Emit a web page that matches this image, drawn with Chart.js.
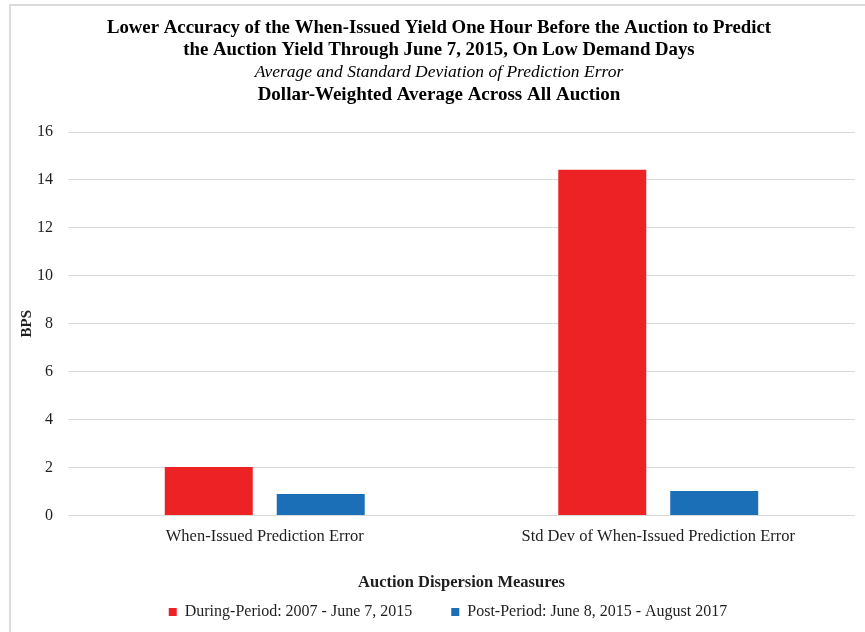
<!DOCTYPE html>
<html>
<head>
<meta charset="utf-8">
<script src="https://cdn.jsdelivr.net/npm/chart.js@4"></script>
<style>
  html, body { margin: 0; padding: 0; background: #ffffff; }
  #frame { position: absolute; left: 9px; top: 4px; width: 900px; height: 700px;
           border-left: 2px solid #dcdcdc; border-top: 2px solid #dcdcdc; box-sizing: border-box; }
  #wrap { position: absolute; left: 0; top: 0; width: 865px; height: 632px; }
</style>
</head>
<body>
<div id="frame"></div>
<div id="wrap"><canvas id="c" width="865" height="632"></canvas></div>
<script>
// ---- data ----
const categories = ['When-Issued Prediction Error', 'Std Dev of When-Issued Prediction Error'];
const seriesNames = ['During-Period: 2007 - June 7, 2015', 'Post-Period: June 8, 2015 - August 2017'];
const duringValues = [2.02, 14.42];
const postValues = [0.90, 1.02];
const yTickValues = [0, 2, 4, 6, 8, 10, 12, 14, 16];
const titleLines = [
  'Lower Accuracy of the When-Issued Yield One Hour Before the Auction to Predict',
  'the Auction Yield Through June 7, 2015, On Low Demand Days',
  'Average and Standard Deviation of Prediction Error',
  'Dollar-Weighted Average Across All Auction'
];
const xAxisTitle = 'Auction Dispersion Measures';
const yAxisTitle = 'BPS';

// ---- styling ----
const SERIF = "'Liberation Serif', 'Times New Roman', serif";
const TEXT = '#1e1e1e';
const titleStyles = [
  { font: 'bold 18.8px ' + SERIF, y: 28 },
  { font: 'bold 18.8px ' + SERIF, y: 50 },
  { font: 'italic 17.5px ' + SERIF, y: 72 },
  { font: 'bold 19px ' + SERIF, y: 95 }
];

const titlePlugin = {
  id: 'multiTitle',
  afterDraw(chart) {
    const ctx = chart.ctx;
    ctx.save();
    ctx.fillStyle = '#000000';
    ctx.textAlign = 'center';
    ctx.textBaseline = 'middle';
    titleLines.forEach((line, i) => {
      ctx.font = titleStyles[i].font;
      ctx.fillText(line, 439, titleStyles[i].y);
    });
    ctx.restore();
  }
};

const legendShift = {
  id: 'legendShift',
  afterLayout(chart) {
    if (chart.legend) { chart.legend.left += 31; }
  }
};

new Chart(document.getElementById('c'), {
  type: 'bar',
  data: {
    labels: categories,
    datasets: [
      { label: seriesNames[0], data: duringValues, backgroundColor: '#ED2224', borderWidth: 0 },
      { label: seriesNames[1], data: postValues, backgroundColor: '#1B6FB7', borderWidth: 0 }
    ]
  },
  options: {
    responsive: false,
    animation: false,
    devicePixelRatio: 1,
    categoryPercentage: 0.569,
    barPercentage: 0.786,
    layout: { padding: { top: 132, left: 10, right: 10, bottom: 2 } },
    plugins: {
      title: { display: false },
      tooltip: { enabled: false },
      legend: {
        display: true,
        position: 'bottom',
        align: 'center',
        labels: {
          boxWidth: 8,
          boxHeight: 8,
          padding: 39,
          color: TEXT,
          font: { family: SERIF, size: 16 }
        }
      }
    },
    scales: {
      x: {
        grid: { display: false, drawTicks: false },
        border: { display: false },
        ticks: { color: TEXT, font: { family: SERIF, size: 16.5 }, padding: 11, maxRotation: 0 },
        title: {
          display: true, text: xAxisTitle, color: TEXT,
          font: { family: SERIF, size: 16.5, weight: 'bold' },
          padding: { top: 0, bottom: -28 }
        },
        afterFit(scale) { scale.height = 49.5; }
      },
      y: {
        min: 0, max: 16,
        afterBuildTicks(scale) { scale.ticks = yTickValues.map(v => ({ value: v })); },
        grid: { color: '#D9D9D9', lineWidth: 1, drawTicks: false },
        border: { display: false },
        ticks: { color: TEXT, font: { family: SERIF, size: 16 }, padding: 15 },
        title: {
          display: true, text: yAxisTitle, color: TEXT,
          font: { family: SERIF, size: 15, weight: 'bold' },
          padding: { top: 8, bottom: 0 }
        },
        afterFit(scale) { scale.width = 58; }
      }
    }
  },
  plugins: [titlePlugin, legendShift]
});
</script>
</body>
</html>
